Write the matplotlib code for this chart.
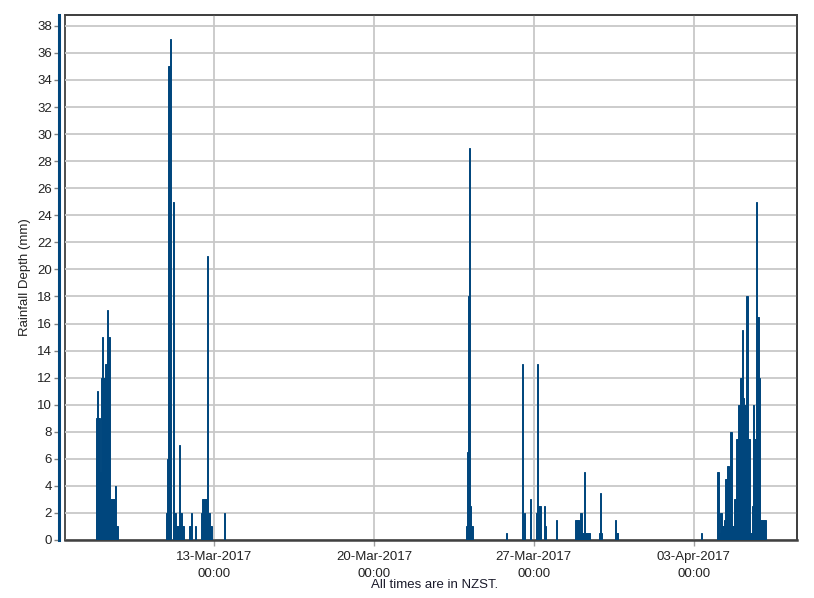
import matplotlib
matplotlib.use("Agg")
import matplotlib.pyplot as plt
import matplotlib.dates as mdates
import pandas as pd

plt.rcParams['font.family'] = ['Liberation Sans', 'DejaVu Sans']

# hourly rainfall (mm), grouped into runs of consecutive hours (hour-ending times)
event_starts = ['2017-03-07 20:00', '2017-03-10 22:00', '2017-03-11 22:00',
                '2017-03-12 11:00', '2017-03-13 11:00', '2017-03-24 01:00',
                '2017-03-25 20:00', '2017-03-26 13:00', '2017-03-28 20:00',
                '2017-03-29 22:00', '2017-03-30 14:00', '2017-04-03 09:00',
                '2017-04-04 02:00']
rain_a = [6, 9, 11, 9, 9, 5, 12, 15, 12, 12, 13, 13, 17, 15, 15, 3, 3, 3, 3, 3, 4, 4, 1, 1]
rain_b = [2, 6, 35, 35, 37, 0, 0, 25, 25, 2, 2, 1, 1, 1, 7, 2, 2, 1, 1]
rain_b2 = [1, 1, 2, 0, 0, 0, 0, 1]
rain_b3 = [2, 3, 3, 3, 3, 3, 21, 2, 2, 1, 1]
rain_b4 = [2]
rain_c = [0, 1, 6.5, 18, 29, 2.5, 1, 1]
rain_c2 = [0.5]
rain_c3 = [13, 0, 2, 0, 0, 0, 0, 0, 3, 0, 0, 0, 0, 0, 2, 13, 2.5, 2.5, 2.5, 0.5,
           0, 0, 0, 2.5, 1, 0, 0, 0, 0, 0, 0, 0, 0, 0, 0, 1.5]
rain_c4 = [1.5, 1.5, 1.5, 1.5, 1.5, 0.5, 2, 2, 0.5, 0.5, 5, 0.5, 0.5, 0.5, 0.5, 0.5]
rain_c5 = [0.5, 3.5, 0.5]
rain_c6 = [1.5, 0.5, 0.5, 0.5]
rain_d = [0.5]
rain_d2 = [5, 5, 0.5, 2, 2, 1, 1, 1.5, 4.5, 4.5, 5.5, 5.5, 5, 8, 8, 1, 1, 0.5, 3, 3,
           7.5, 7.5, 10, 10, 12, 12, 15.5, 10.5, 10, 10, 18, 18, 7.5, 7.5, 0.5, 0.5,
           2.5, 10, 10, 7.5, 7.5, 25, 16.5, 16.5, 12, 1.5, 1.5, 1.5, 1.5, 1.5, 1.5]
event_values = [rain_a, rain_b, rain_b2, rain_b3, rain_b4, rain_c, rain_c2, rain_c3,
                rain_c4, rain_c5, rain_c6, rain_d, rain_d2]

tick_dates = ['2017-03-13', '2017-03-20', '2017-03-27', '2017-04-03']
x_start, x_end = '2017-03-06 10:55', '2017-04-07 12:45'
y_ticks = list(range(0, 39, 2))

times, values = [], []
for start, vals in zip(event_starts, event_values):
    times.extend(pd.date_range(start, periods=len(vals), freq='h'))
    values.extend(vals)

bar_col = '#00467d'
fig = plt.figure(figsize=(8.14, 5.98), dpi=100)
ax = fig.add_axes([65/814, 58/598, 732/814, 525/598])

# each bar covers the hour ending at its timestamp
ax.bar(times, values, width=-1/24, align='edge', color=bar_col,
       edgecolor=bar_col, linewidth=0.7, zorder=3)

ax.set_xlim(pd.Timestamp(x_start), pd.Timestamp(x_end))
ax.set_ylim(0, 38.8)
ax.set_yticks(y_ticks)
ax.set_xticks(pd.to_datetime(tick_dates))
ax.xaxis.set_major_formatter(mdates.DateFormatter('%d-%b-%Y\n%H:%M'))

ax.grid(True, color='#c8c8c8', linewidth=1.3, zorder=0)
ax.set_axisbelow(True)

for s in ['top', 'right', 'bottom']:
    ax.spines[s].set_color('#404040')
    ax.spines[s].set_linewidth(1.3)
ax.spines['bottom'].set_linewidth(1.8)
ax.spines['left'].set_position(('outward', 4))
ax.spines['left'].set_color(bar_col)
ax.spines['left'].set_linewidth(2.2)
ax.patch.set_edgecolor('#404040')
ax.patch.set_linewidth(1.3)

ax.tick_params(axis='y', direction='out', length=3.5, width=1, color='#808080',
               labelsize=9.5, pad=2, labelcolor='#222222')
ax.tick_params(axis='x', direction='out', length=4, width=1, color='#a0a0a0',
               labelsize=9.5, pad=4, labelcolor='#222222')
for lbl in ax.get_xticklabels():
    lbl.set_linespacing(1.5)

ax.set_ylabel('Rainfall Depth (mm)', fontsize=9.5, color='#222222')
ax.yaxis.set_label_coords(-0.047, 0.5)

fig.text(435/814, 1 - 585/598, 'All times are in NZST.', ha='center', va='center',
         fontsize=9.5, color='#1a1a2a')

fig.savefig('out.png', dpi=100)
